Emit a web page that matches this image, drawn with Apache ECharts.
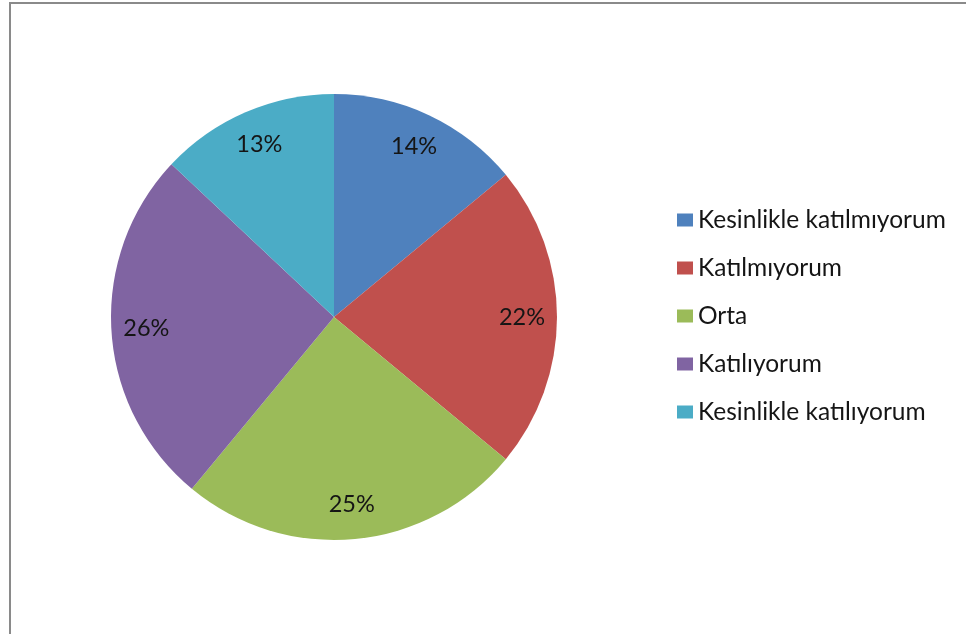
<!DOCTYPE html>
<html>
<head>
<meta charset="utf-8">
<script src="https://cdn.jsdelivr.net/npm/echarts@6/dist/echarts.min.js"></script>
<style>
  html, body { margin: 0; padding: 0; background: #fff; }
  #chart { width: 966px; height: 634px; }
</style>
</head>
<body>
<div id="chart"></div>
<script>
// Survey responses (percent of respondents)
var categories = [
  'Kesinlikle katılmıyorum',
  'Katılmıyorum',
  'Orta',
  'Katılıyorum',
  'Kesinlikle katılıyorum'
];
var values = [14, 22, 25, 26, 13];
var colors = ['#4F81BD', '#C0504D', '#9BBB59', '#8064A2', '#4BACC6'];

var FONT = 'Lato, "Noto Sans", sans-serif';

var sliceData = categories.map(function (name, i) {
  return { name: name, value: values[i], itemStyle: { color: colors[i] } };
});

var center = [334, 317];
var outerR = 223;

var chart = echarts.init(document.getElementById('chart'), null, { renderer: 'canvas' });
chart.setOption({
  animation: false,
  backgroundColor: '#ffffff',
  graphic: [{
    type: 'rect',
    shape: { x: 10, y: 3, width: 1000, height: 700 },
    style: { fill: 'none', stroke: '#8a8a8a', lineWidth: 2 },
    silent: true
  }],
  legend: {
    orient: 'vertical',
    left: 672,
    top: 202,
    icon: 'rect',
    itemWidth: 16,
    itemHeight: 13,
    itemGap: 22,
    itemStyle: { borderWidth: 0 },
    data: categories,
    textStyle: {
      fontFamily: FONT, fontSize: 24.5, color: '#151515',
      lineHeight: 26
    }
  },
  series: [
    {
      // the slices themselves
      type: 'pie',
      center: center,
      radius: [0, outerR],
      startAngle: 90,
      clockwise: true,
      label: { show: false },
      labelLine: { show: false },
      itemStyle: { borderWidth: 0 },
      emphasis: { disabled: true },
      data: sliceData
    },
    {
      // transparent ring carrying the percentage labels near the rim
      type: 'pie',
      center: center,
      radius: [147, outerR],
      startAngle: 90,
      clockwise: true,
      silent: true,
      legendHoverLink: false,
      itemStyle: { color: 'rgba(0,0,0,0)', borderWidth: 0 },
      label: {
        show: true,
        position: 'inside',
        formatter: '{c}%',
        fontFamily: FONT,
        fontSize: 23.5,
        color: '#151515'
      },
      labelLine: { show: false },
      emphasis: { disabled: true },
      data: categories.map(function (name, i) { return { name: name + ' ', value: values[i] }; })
    }
  ]
});
</script>
</body>
</html>
